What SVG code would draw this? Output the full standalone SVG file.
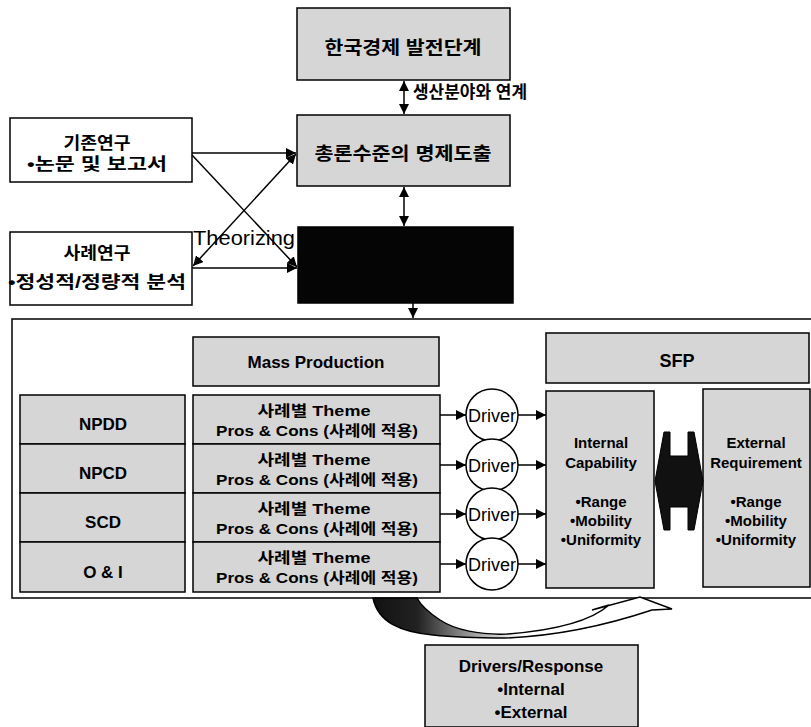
<svg xmlns="http://www.w3.org/2000/svg" width="811" height="727" viewBox="0 0 811 727">
<style>
text{font-family:'Liberation Sans','Noto Sans CJK KR',sans-serif;fill:#000;}
.b{font-weight:bold;}
.g{fill:#d6d6d6;stroke:#000;stroke-width:1.5;}
.w{fill:#fff;stroke:#000;stroke-width:1.5;}
.ln{stroke:#000;stroke-width:1.5;fill:none;}
.c{text-anchor:middle;}
</style>
<defs>
<marker id="ah" viewBox="0 0 10 10" refX="10" refY="5" markerWidth="10" markerHeight="10" markerUnits="userSpaceOnUse" orient="auto-start-reverse"><path d="M0,0 L10,5 L0,10 z" fill="#000"/></marker>
<linearGradient id="cg" gradientUnits="userSpaceOnUse" x1="373" y1="0" x2="672" y2="0">
<stop offset="0" stop-color="#111"/>
<stop offset="0.15" stop-color="#222"/>
<stop offset="0.35" stop-color="#aaa"/>
<stop offset="0.5" stop-color="#fff"/>
<stop offset="1" stop-color="#fff"/>
</linearGradient>
</defs>

<g id="container"><rect x="12" y="319" width="810" height="279" fill="#fff" stroke="#000" stroke-width="1.5"/></g>

<g id="n-top"><rect class="g" x="297" y="8" width="213" height="72"/><text class="b c" x="403" y="54" font-size="18" textLength="157" lengthAdjust="spacingAndGlyphs">한국경제 발전단계</text></g>
<g id="n-prop"><rect class="g" x="297" y="115" width="213" height="71"/><text class="b c" x="403" y="160" font-size="18" textLength="177" lengthAdjust="spacingAndGlyphs">총론수준의 명제도출</text></g>
<g id="n-black"><rect x="298" y="227" width="215" height="76" fill="#050505" stroke="#000" stroke-width="1.5"/></g>
<g id="n-prev"><rect class="w" x="10" y="118" width="182" height="64"/><text class="b c" x="97" y="149" font-size="17" textLength="67" lengthAdjust="spacingAndGlyphs">기존연구</text><text class="b c" x="97" y="170" font-size="17" textLength="140" lengthAdjust="spacingAndGlyphs">•논문 및 보고서</text></g>
<g id="n-case"><rect class="w" x="10" y="232" width="182" height="73"/><text class="b c" x="97" y="259" font-size="17" textLength="67" lengthAdjust="spacingAndGlyphs">사례연구</text><text class="b c" x="97" y="288" font-size="17" textLength="178" lengthAdjust="spacingAndGlyphs">•정성적/정량적 분석</text></g>
<text x="193" y="245" font-size="21" textLength="102" lengthAdjust="spacingAndGlyphs">Theorizing</text>

<g id="n-mass"><rect class="g" x="193" y="337" width="246" height="49"/><text class="b c" x="316" y="368" font-size="17">Mass Production</text></g>
<g id="n-sfp"><rect class="g" x="546" y="333" width="263" height="50"/><text class="b c" x="677" y="367" font-size="18">SFP</text></g>

<g id="n-npdd"><rect class="g" x="20" y="395" width="165" height="49"/><text class="b c" x="103" y="430" font-size="17">NPDD</text></g>
<g id="n-npcd"><rect class="g" x="20" y="444" width="165" height="49"/><text class="b c" x="103" y="479" font-size="17">NPCD</text></g>
<g id="n-scd"><rect class="g" x="20" y="493" width="165" height="49"/><text class="b c" x="103" y="528" font-size="17">SCD</text></g>
<g id="n-oi"><rect class="g" x="20" y="542" width="165" height="50"/><text class="b c" x="103" y="578" font-size="17">O &amp; I</text></g>

<g id="n-theme1"><rect class="g" x="193" y="395" width="247" height="49"/><text class="b c" x="314" y="416" font-size="15" textLength="113" lengthAdjust="spacingAndGlyphs">사례별 Theme</text><text class="b c" x="317" y="436" font-size="15" textLength="202" lengthAdjust="spacingAndGlyphs">Pros &amp; Cons (사례에 적용)</text></g>
<g id="n-theme2"><rect class="g" x="193" y="444" width="247" height="49"/><text class="b c" x="314" y="465" font-size="15" textLength="113" lengthAdjust="spacingAndGlyphs">사례별 Theme</text><text class="b c" x="317" y="485" font-size="15" textLength="202" lengthAdjust="spacingAndGlyphs">Pros &amp; Cons (사례에 적용)</text></g>
<g id="n-theme3"><rect class="g" x="193" y="493" width="247" height="49"/><text class="b c" x="314" y="514" font-size="15" textLength="113" lengthAdjust="spacingAndGlyphs">사례별 Theme</text><text class="b c" x="317" y="534" font-size="15" textLength="202" lengthAdjust="spacingAndGlyphs">Pros &amp; Cons (사례에 적용)</text></g>
<g id="n-theme4"><rect class="g" x="193" y="542" width="247" height="50"/><text class="b c" x="314" y="563" font-size="15" textLength="113" lengthAdjust="spacingAndGlyphs">사례별 Theme</text><text class="b c" x="317" y="583" font-size="15" textLength="202" lengthAdjust="spacingAndGlyphs">Pros &amp; Cons (사례에 적용)</text></g>

<g id="n-d1"><circle class="w" cx="492" cy="415" r="26"/><text class="c" x="492" y="422" font-size="18">Driver</text></g>
<g id="n-d2"><circle class="w" cx="492" cy="465" r="26"/><text class="c" x="492" y="472" font-size="18">Driver</text></g>
<g id="n-d3"><circle class="w" cx="492" cy="514" r="26"/><text class="c" x="492" y="521" font-size="18">Driver</text></g>
<g id="n-d4"><circle class="w" cx="492" cy="564" r="26"/><text class="c" x="492" y="571" font-size="18">Driver</text></g>

<g id="n-int"><rect class="g" x="546" y="391" width="108" height="197"/>
<text class="b c" x="601" y="448" font-size="15">Internal</text>
<text class="b c" x="601" y="468" font-size="15">Capability</text>
<text class="b c" x="601" y="507" font-size="15">•Range</text>
<text class="b c" x="601" y="526" font-size="15">•Mobility</text>
<text class="b c" x="601" y="545" font-size="15">•Uniformity</text></g>
<g id="n-ext"><rect class="g" x="703" y="389" width="107" height="198"/>
<text class="b c" x="756" y="448" font-size="15">External</text>
<text class="b c" x="756" y="468" font-size="15">Requirement</text>
<text class="b c" x="756" y="507" font-size="15">•Range</text>
<text class="b c" x="756" y="526" font-size="15">•Mobility</text>
<text class="b c" x="756" y="545" font-size="15">•Uniformity</text></g>

<g id="n-resp"><rect class="g" x="425" y="645" width="213" height="82"/>
<text class="b c" x="531" y="672" font-size="17">Drivers/Response</text>
<text class="b c" x="531" y="695" font-size="17">•Internal</text>
<text class="b c" x="531" y="718" font-size="17">•External</text></g>

<g id="connectors">
<line class="ln" x1="404" y1="81" x2="404" y2="114" marker-start="url(#ah)" marker-end="url(#ah)"/>
<text class="b" x="413" y="98" font-size="17" textLength="114" lengthAdjust="spacingAndGlyphs">생산분야와 연계</text>
<line class="ln" x1="404" y1="187" x2="404" y2="226" marker-start="url(#ah)" marker-end="url(#ah)"/>
<line class="ln" x1="413" y1="303" x2="413" y2="318" marker-end="url(#ah)"/>
<line class="ln" x1="192" y1="153" x2="296" y2="153" marker-end="url(#ah)"/>
<line class="ln" x1="192" y1="155" x2="297" y2="267" marker-end="url(#ah)"/>
<line class="ln" x1="296" y1="154" x2="193" y2="266" marker-start="url(#ah)" marker-end="url(#ah)"/>
<line class="ln" x1="192" y1="268" x2="297" y2="268" marker-end="url(#ah)"/>
<line class="ln" x1="440" y1="415" x2="466" y2="415" marker-end="url(#ah)"/>
<line class="ln" x1="440" y1="465" x2="466" y2="465" marker-end="url(#ah)"/>
<line class="ln" x1="440" y1="514" x2="466" y2="514" marker-end="url(#ah)"/>
<line class="ln" x1="440" y1="564" x2="466" y2="564" marker-end="url(#ah)"/>
<line class="ln" x1="518" y1="415" x2="546" y2="415" marker-end="url(#ah)"/>
<line class="ln" x1="518" y1="465" x2="546" y2="465" marker-end="url(#ah)"/>
<line class="ln" x1="518" y1="514" x2="546" y2="514" marker-end="url(#ah)"/>
<line class="ln" x1="518" y1="564" x2="546" y2="564" marker-end="url(#ah)"/>
<path d="M655,481 L664,432 L670,432 L670,456 L688,456 L688,432 L694,432 L703,481 L694,530 L688,530 L688,507 L670,507 L670,530 L664,530 Z" fill="#111" stroke="#000" stroke-width="1"/>
<path d="M373,598 C378,622 400,632 433,635 C460,638 480,638 505,638 C560,636 610,624 652,610 L672,609 L640,597 L592,610 L609,605 C592,620 560,630 507,634 C480,635 455,630 440,620 C428,612 420,604 417,598 Z" fill="url(#cg)" stroke="#000" stroke-width="1.5"/>
</g>
</svg>
